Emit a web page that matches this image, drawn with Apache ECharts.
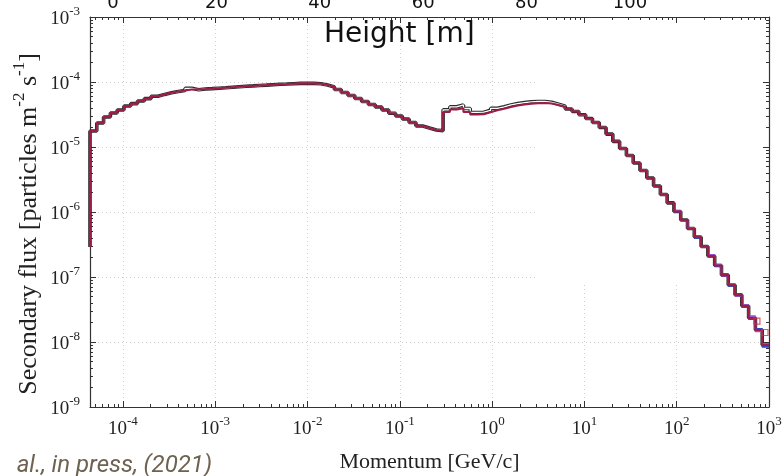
<!DOCTYPE html>
<html>
<head>
<meta charset="utf-8">
<script src="https://cdn.jsdelivr.net/npm/echarts@6/dist/echarts.min.js"></script>
<style>
  html, body { margin: 0; padding: 0; background: #ffffff; }
  #chart { width: 784px; height: 476px; }
</style>
</head>
<body>
<div id="chart"></div>
<script>
// Momentum binning [GeV/c]: log-spaced histogram bins over the plotted range
const momentumRange = [4.4e-5, 1000];
const binCount = 100;

// Secondary flux per momentum bin [particles m^-2 s^-1]
const fluxRed = [
  1.76e-5, 2.34e-5, 2.90e-5, 3.33e-5, 3.71e-5, 4.27e-5, 4.65e-5, 5.10e-5, 5.55e-5, 6.03e-5,
  6.45e-5, 6.82e-5, 7.14e-5, 7.40e-5, 7.67e-5, 7.75e-5, 7.80e-5, 7.91e-5, 8.03e-5, 8.14e-5,
  8.29e-5, 8.44e-5, 8.59e-5, 8.71e-5, 8.84e-5, 8.96e-5, 9.09e-5, 9.22e-5, 9.31e-5, 9.42e-5,
  9.52e-5, 9.55e-5, 9.52e-5, 9.39e-5, 8.99e-5, 8.38e-5, 7.67e-5, 6.89e-5, 6.20e-5, 5.57e-5,
  5.01e-5, 4.51e-5, 4.12e-5, 3.71e-5, 3.31e-5, 3.00e-5, 2.70e-5, 2.38e-5, 2.10e-5, 1.96e-5,
  1.83e-5, 1.78e-5, 3.45e-5, 3.78e-5, 3.94e-5, 3.45e-5, 3.16e-5, 3.20e-5, 3.42e-5, 3.67e-5,
  3.87e-5, 4.12e-5, 4.35e-5, 4.51e-5, 4.65e-5, 4.72e-5, 4.75e-5, 4.67e-5, 4.43e-5, 4.17e-5,
  3.84e-5, 3.52e-5, 3.13e-5, 2.74e-5, 2.38e-5, 2.00e-5, 1.58e-5, 1.22e-5, 9.48e-6, 7.40e-6,
  5.68e-6, 4.35e-6, 3.33e-6, 2.51e-6, 1.86e-6, 1.38e-6, 1.02e-6, 7.53e-7, 5.57e-7, 4.12e-7,
  2.95e-7, 2.10e-7, 1.50e-7, 1.07e-7, 7.53e-8, 5.29e-8, 3.58e-8, 2.34e-8, 1.53e-8, 8.99e-9
];
const fluxBlack = [
  1.76e-5, 2.34e-5, 2.90e-5, 3.33e-5, 3.71e-5, 4.27e-5, 4.65e-5, 5.10e-5, 5.55e-5, 6.03e-5,
  6.45e-5, 6.82e-5, 7.14e-5, 7.40e-5, 8.00e-5, 7.60e-5, 7.80e-5, 7.91e-5, 8.03e-5, 8.14e-5,
  8.29e-5, 8.44e-5, 8.59e-5, 8.71e-5, 8.84e-5, 8.96e-5, 9.09e-5, 9.22e-5, 9.31e-5, 9.42e-5,
  9.52e-5, 9.55e-5, 9.52e-5, 9.39e-5, 8.99e-5, 8.38e-5, 7.67e-5, 6.89e-5, 6.20e-5, 5.57e-5,
  5.01e-5, 4.51e-5, 4.12e-5, 3.71e-5, 3.31e-5, 3.00e-5, 2.70e-5, 2.38e-5, 2.10e-5, 1.96e-5,
  1.83e-5, 1.78e-5, 3.73e-5, 4.15e-5, 4.43e-5, 3.91e-5, 3.40e-5, 3.43e-5, 3.67e-5, 3.94e-5,
  4.15e-5, 4.43e-5, 4.65e-5, 4.82e-5, 4.96e-5, 5.01e-5, 5.01e-5, 4.87e-5, 4.56e-5, 4.25e-5,
  3.84e-5, 3.52e-5, 3.13e-5, 2.74e-5, 2.38e-5, 2.00e-5, 1.58e-5, 1.22e-5, 9.48e-6, 7.40e-6,
  5.68e-6, 4.35e-6, 3.33e-6, 2.51e-6, 1.86e-6, 1.38e-6, 1.02e-6, 7.53e-7, 5.57e-7, 4.12e-7,
  2.95e-7, 2.10e-7, 1.50e-7, 1.07e-7, 7.53e-8, 5.29e-8, 3.58e-8, 2.34e-8, 1.53e-8, 8.99e-9
];
// flux in the lowest-momentum edge before the first filled bin
const firstBinFloor = 2.9e-7;

// high-momentum tail of the remaining runs, starting at bin tailStart
const tailStart = 86;
const fluxPurple = [1.04e-6, 7.4e-7, 5.7e-7, 4.2e-7, 2.9e-7, 2.2e-7, 1.55e-7, 1.04e-7, 7.8e-8, 5.1e-8, 3.7e-8, 2.5e-8, 1.45e-8, 9.6e-9];
const fluxBlue   = [1.0e-6, 7.6e-7, 5.5e-7, 4.0e-7, 3.0e-7, 2.05e-7, 1.46e-7, 1.1e-7, 7.3e-8, 5.5e-8, 3.45e-8, 2.25e-8, 1.6e-8, 8.4e-9];
const fluxGreen  = [1.01e-6, 7.5e-7, 5.6e-7, 4.1e-7, 2.97e-7, 2.12e-7, 1.49e-7, 1.08e-7, 7.6e-8, 5.2e-8, 3.6e-8, 2.4e-8, 1.5e-8, 9.2e-9];
// open-square points of the reference run [momentum, flux]
const squarePoints = [[740, 2.1e-8], [905, 1.4e-8]];

// axis ticks
const xDecades = [1e-4, 1e-3, 1e-2, 1e-1, 1, 10, 100, 1000];
const yDecades = [1e-9, 1e-8, 1e-7, 1e-6, 1e-5, 1e-4, 1e-3];
const heightTicks = [0, 20, 40, 60, 80, 100];
const heightRange = [-4.45, 126.9];

// ---------------------------------------------------------------
const lgMin = Math.log10(momentumRange[0]);
const lgMax = Math.log10(momentumRange[1]);
const edges = [];
for (let i = 0; i <= binCount; i++) {
  edges.push(Math.pow(10, lgMin + (lgMax - lgMin) * i / binCount));
}

function stepPoints(values, startBin, floor) {
  const pts = [];
  if (floor !== undefined) pts.push([edges[startBin], floor]);
  values.forEach((v, k) => pts.push([edges[startBin + k], v]));
  pts.push([edges[startBin + values.length], values[values.length - 1]]);
  return pts;
}

function minorValues(decades, lo, hi) {
  const out = [];
  const all = [decades[0] / 10].concat(decades);
  all.forEach(d => {
    for (let k = 2; k <= 9; k++) {
      const v = d * k;
      if (v > lo * 1.0001 && v < hi * 0.9999) out.push(v);
    }
  });
  return out;
}

const SERIF = 'Liberation Serif';
const INK = '#222222';
const FRAME = '#333333';

function powLabel(v) {
  const e = Math.round(Math.log10(v));
  return '{b|10}{s|' + e + '}';
}
const powRich = {
  b: { fontFamily: SERIF, fontSize: 19, color: INK, lineHeight: 24, verticalAlign: 'bottom' },
  s: { fontFamily: SERIF, fontSize: 13, color: INK, lineHeight: 13, verticalAlign: 'top' }
};

const xMinor = minorValues(xDecades, momentumRange[0], momentumRange[1]);
const yMinor = minorValues(yDecades, yDecades[0], yDecades[yDecades.length - 1]);

const noLine = { show: false, onZero: false };
const frameLine = { show: true, onZero: false, lineStyle: { color: FRAME, width: 1.2 } };

function logX(extra) {
  return Object.assign({
    type: 'log', logBase: 10, min: momentumRange[0], max: momentumRange[1],
    splitNumber: 8,
    axisLine: noLine,
    axisTick: { show: false },
    axisLabel: { show: false },
    splitLine: { show: false }
  }, extra);
}
function logY(extra) {
  return Object.assign({
    type: 'log', logBase: 10, min: yDecades[0], max: yDecades[yDecades.length - 1],
    splitNumber: 8,
    axisLine: noLine,
    axisTick: { show: false },
    axisLabel: { show: false },
    splitLine: { show: false }
  }, extra);
}

const majorTick = (vals) => ({ show: true, inside: true, length: 6, customValues: vals, lineStyle: { color: FRAME, width: 1 } });
const minorTick = (vals) => ({ show: true, inside: true, length: 3, customValues: vals, lineStyle: { color: FRAME, width: 1 } });
const gridLine = { show: true, lineStyle: { color: '#cfcfcf', type: [1, 3], width: 1 } };

const chart = echarts.init(document.getElementById('chart'), null, { renderer: 'canvas' });

chart.setOption({
  backgroundColor: '#ffffff',
  animation: false,
  grid: { left: 90, right: 15, top: 17, bottom: 69, containLabel: false, outerBoundsMode: 'none' },
  xAxis: [
    logX({
      position: 'bottom', z: 0,
      splitLine: gridLine,
      axisLine: frameLine,
      axisTick: majorTick(xDecades),
      axisLabel: { show: true, customValues: xDecades, margin: 8, formatter: powLabel, rich: powRich },
      name: 'Momentum [GeV/c]', nameLocation: 'middle', nameGap: 44,
      nameTextStyle: { fontFamily: SERIF, fontSize: 22, color: INK }
    }),
    logX({ position: 'bottom', z: 5, axisTick: minorTick(xMinor) }),
    logX({ position: 'top', z: 5, axisLine: frameLine, axisTick: majorTick(xDecades) }),
    logX({ position: 'top', z: 5, axisTick: minorTick(xMinor) }),
    {
      type: 'value', position: 'top', min: heightRange[0], max: heightRange[1], z: 5,
      axisLine: noLine, axisTick: { show: false }, splitLine: { show: false },
      axisLabel: { show: true, customValues: heightTicks, margin: 5,
        fontFamily: 'DejaVu Sans', fontSize: 18, color: '#111111' }
    }
  ],
  yAxis: [
    logY({
      position: 'left', z: 0,
      splitLine: gridLine,
      axisLine: frameLine,
      axisTick: majorTick(yDecades),
      axisLabel: { show: true, customValues: yDecades, margin: 10, formatter: powLabel, rich: powRich }
    }),
    logY({ position: 'left', z: 5, axisTick: minorTick(yMinor) }),
    logY({ position: 'right', z: 5, axisLine: frameLine, axisTick: majorTick(yDecades) }),
    logY({ position: 'right', z: 5, axisTick: minorTick(yMinor) })
  ],
  graphic: [
    // blank key area in the upper right of the frame
    { type: 'rect', z: 1, silent: true,
      shape: { x: 535, y: 18, width: 233, height: 265 },
      style: { fill: '#ffffff' } },
    { type: 'text', z: 10, left: 324, top: 21,
      style: { text: 'Height [m]', fontFamily: 'DejaVu Sans', fontSize: 28, fill: '#111111' } },
    { type: 'text', z: 10, x: 27, y: 224, rotation: Math.PI / 2,
      style: {
        text: '{t|Secondary flux [particles m}{s|-2}{t| s}{s|-1}{t|]}',
        align: 'center', verticalAlign: 'middle',
        rich: {
          t: { fontFamily: SERIF, fontSize: 26, fill: INK, lineHeight: 31, verticalAlign: 'bottom' },
          s: { fontFamily: SERIF, fontSize: 17, fill: INK, lineHeight: 17, verticalAlign: 'top' }
        }
      } },
    { type: 'text', z: 10, x: 212, y: 454,
      style: { text: 'al., in press, (2021)', align: 'right', verticalAlign: 'top',
        fontFamily: 'Roboto', fontStyle: 'italic', fontSize: 24, fill: '#6e6250' } }
  ],
  series: [
    { name: 'reference outline', type: 'line', step: 'end', z: 2, showSymbol: false, silent: true,
      data: stepPoints(fluxBlack, 0, firstBinFloor),
      lineStyle: { color: '#2b2b2b', width: 3.6 } },
    { name: 'reference core', type: 'line', step: 'end', z: 3, showSymbol: false, silent: true,
      data: stepPoints(fluxBlack, 0, firstBinFloor),
      lineStyle: { color: '#ffffff', width: 1.3 } },
    { name: 'green', type: 'line', step: 'end', z: 4, showSymbol: false, silent: true,
      data: stepPoints(fluxGreen, tailStart),
      lineStyle: { color: '#2e8b3a', width: 1.6 } },
    { name: 'blue', type: 'line', step: 'end', z: 4, showSymbol: false, silent: true,
      data: stepPoints(fluxBlue, tailStart),
      lineStyle: { color: '#3046c8', width: 1.6 } },
    { name: 'purple', type: 'line', step: 'end', z: 4, showSymbol: false, silent: true,
      data: stepPoints(fluxPurple, tailStart),
      lineStyle: { color: '#9b4fd0', width: 1.6 } },
    { name: 'red', type: 'line', step: 'end', z: 5, showSymbol: false, silent: true,
      data: stepPoints(fluxRed, 0, firstBinFloor),
      lineStyle: { color: '#9c1d45', width: 2.1 } },
    { name: 'squares', type: 'scatter', z: 6, silent: true,
      data: squarePoints, symbol: 'rect', symbolSize: 6,
      itemStyle: { color: 'rgba(0,0,0,0)', borderColor: '#c8324a', borderWidth: 1.2 } }
  ]
});
</script>
</body>
</html>
